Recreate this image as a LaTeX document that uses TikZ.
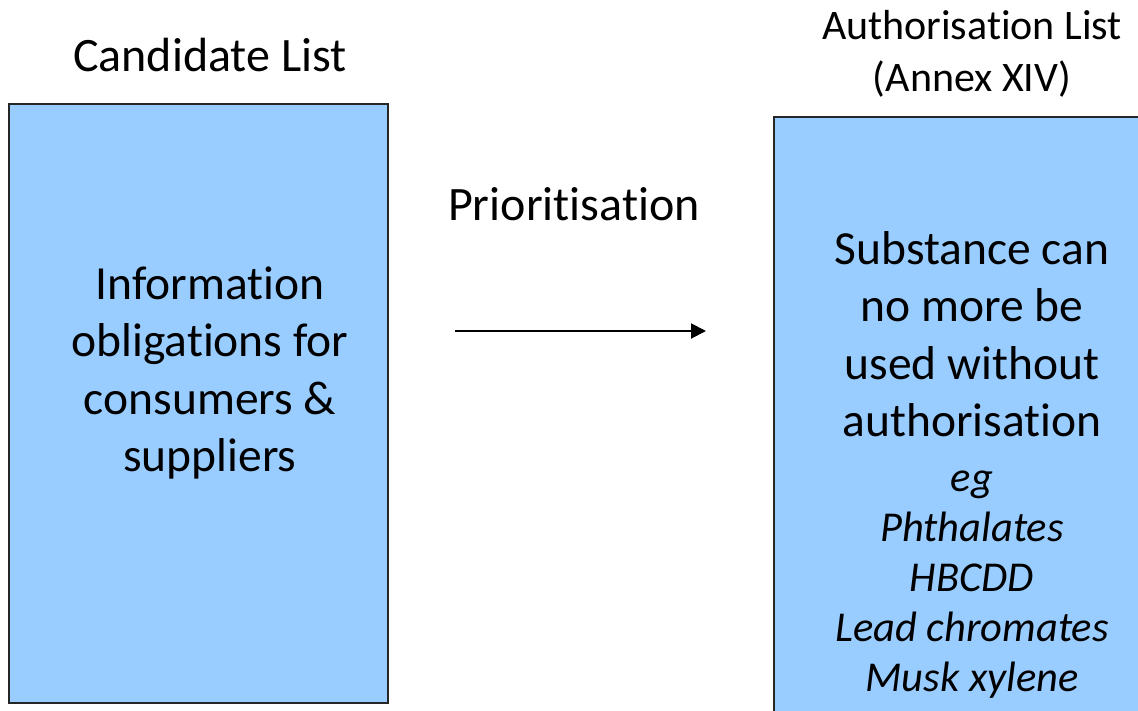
\documentclass[tikz,border=0pt]{standalone}
\usepackage{fontspec}
\setmainfont[Ligatures=CommonOff]{Carlito}
\usepackage{tikz}
\usetikzlibrary{shapes, arrows.meta, positioning}
\definecolor{listblue}{HTML}{99CCFF}
\tikzstyle{listbox} = [draw=black!85, fill=listblue, line width=1.5pt, rectangle, inner sep=0pt]
\tikzstyle{boxtext} = [align=center, font=\fontsize{47.5}{57.5}\selectfont]
\tikzstyle{exampletext} = [align=center, font=\fontsize{42.5}{50}\selectfont\itshape]
\tikzstyle{listtitle} = [align=center, font=\fontsize{48}{58}\selectfont]

\begin{document}
\begin{tikzpicture}[x=1pt, y=-1pt]
	\useasboundingbox (0,0) rectangle (1138,710);
	\clip (0,0) rectangle (1138,710);
	% the two lists
	\node [listbox, minimum width=379pt, minimum height=599pt, anchor=north west] (cand) at (8,103) {};
	\node [listbox, minimum width=400pt, minimum height=620pt, anchor=north west] (auth) at (773,116) {};
	\node [listtitle] (candtitle) at (210,55) {Candidate List};
	\node [listtitle, font=\fontsize{42}{52}\selectfont] (authtitle) at (972,54) {Authorisation List\\(Annex XIV)};
	\node [boxtext] (candtext) at (210,373) {Information\\obligations for\\consumers \&\\suppliers};
	\node [boxtext] (authtext) at (972,334) {Substance can\\no more be\\used without\\authorisation};
	\node [exampletext] (examples) at (972,585) {eg\\Phthalates\\HBCDD\\Lead chromates\\Musk xylene};
	% step between them
	\coordinate (from) at (455,331);
	\coordinate (to) at (706,331);
	\draw [line width=2pt, -{Triangle[length=15pt, width=15pt]}] (from) -- (to);
	\node [listtitle] (prio) at (574,204) {Prioritisation};
\end{tikzpicture}
\end{document}
